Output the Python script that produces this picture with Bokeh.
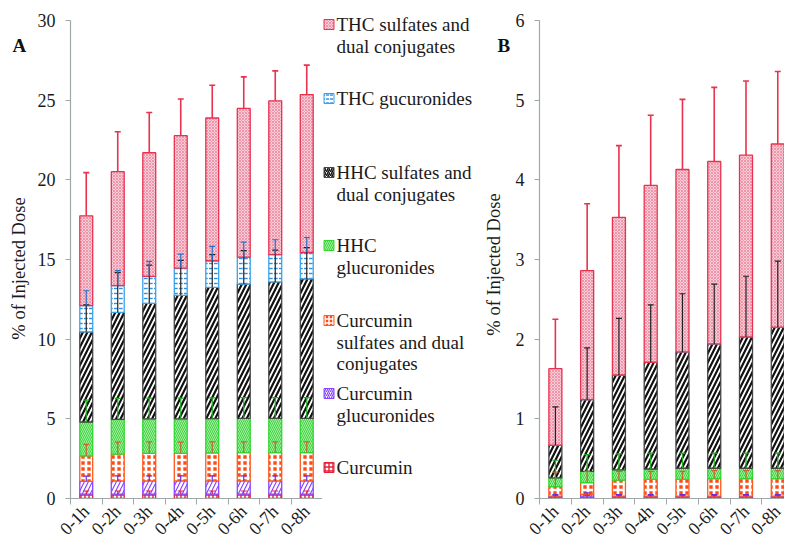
import numpy as np
from math import pi
from bokeh.plotting import figure
from bokeh.layouts import row
from bokeh.models import Range1d, FixedTicker
from bokeh.embed import file_html
from bokeh.resources import INLINE
from bokeh.core.properties import value

categories = ["0-1h", "0-2h", "0-3h", "0-4h", "0-5h", "0-6h", "0-7h", "0-8h"]

# ---- Panel A (segment values, bottom to top) ----
a_curcumin      = [0.27, 0.27, 0.27, 0.27, 0.27, 0.27, 0.27, 0.27]
a_cur_gluc      = [0.81, 0.83, 0.83, 0.83, 0.83, 0.83, 0.83, 0.83]
a_cur_sulf      = [1.59, 1.69, 1.73, 1.73, 1.76, 1.78, 1.78, 1.78]
a_hhc_gluc      = [2.13, 2.18, 2.17, 2.17, 2.15, 2.15, 2.15, 2.15]
a_hhc_sulf      = [5.66, 6.71, 7.25, 7.75, 8.24, 8.43, 8.56, 8.75]
a_thc_gluc      = [1.64, 1.68, 1.69, 1.71, 1.67, 1.69, 1.71, 1.66]
a_thc_sulf      = [5.64, 7.15, 7.76, 8.31, 8.96, 9.33, 9.66, 9.91]

a_err_curcumin  = [0.20, 0.20, 0.20, 0.20, 0.20, 0.20, 0.20, 0.20]
a_err_cur_gluc  = [0.32, 0.32, 0.32, 0.32, 0.32, 0.32, 0.32, 0.32]
a_err_cur_sulf  = [0.73, 0.75, 0.72, 0.71, 0.70, 0.68, 0.68, 0.68]
a_err_hhc_gluc  = [1.37, 1.31, 1.30, 1.30, 1.30, 1.30, 1.30, 1.30]
a_err_hhc_sulf  = [1.70, 2.50, 2.40, 2.20, 2.05, 2.10, 2.00, 1.97]
a_err_thc_gluc  = [0.94, 0.94, 0.94, 0.88, 0.90, 0.94, 0.94, 0.94]
a_err_thc_sulf  = [2.71, 2.51, 2.53, 2.30, 2.06, 1.98, 1.88, 1.85]

# ---- Panel B ----
b_curcumin      = [0.02, 0.02, 0.02, 0.02, 0.02, 0.02, 0.02, 0.02]
b_cur_gluc      = [0.01, 0.03, 0.01, 0.01, 0.01, 0.01, 0.01, 0.01]
b_cur_sulf      = [0.12, 0.15, 0.20, 0.21, 0.21, 0.22, 0.22, 0.22]
b_hhc_gluc      = [0.11, 0.14, 0.13, 0.13, 0.14, 0.13, 0.13, 0.13]
b_hhc_sulf      = [0.41, 0.90, 1.19, 1.34, 1.46, 1.56, 1.65, 1.77]
b_thc_gluc      = [0.00, 0.00, 0.00, 0.00, 0.00, 0.00, 0.00, 0.00]
b_thc_sulf      = [0.96, 1.62, 1.98, 2.22, 2.29, 2.29, 2.28, 2.30]

b_err_curcumin  = [0.02, 0.02, 0.02, 0.02, 0.02, 0.02, 0.02, 0.02]
b_err_cur_gluc  = [0.02, 0.02, 0.02, 0.02, 0.02, 0.02, 0.02, 0.02]
b_err_cur_sulf  = [0.18, 0.14, 0.11, 0.10, 0.10, 0.10, 0.10, 0.10]
b_err_hhc_gluc  = [0.22, 0.21, 0.20, 0.20, 0.19, 0.19, 0.19, 0.19]
b_err_hhc_sulf  = [0.48, 0.65, 0.71, 0.72, 0.73, 0.75, 0.76, 0.83]
b_err_thc_gluc  = [0.00, 0.00, 0.00, 0.00, 0.00, 0.00, 0.00, 0.00]
b_err_thc_sulf  = [0.62, 0.84, 0.90, 0.88, 0.88, 0.93, 0.93, 0.91]

yticks_a = [0, 5, 10, 15, 20, 25, 30]
yticks_b = [0, 1, 2, 3, 4, 5, 6]

y_axis_title = "% of Injected Dose"
panel_titles = ["A", "B"]

legend_labels = [
    ["THC sulfates and", "dual conjugates"],
    ["THC gucuronides"],
    ["HHC sulfates and", "dual conjugates"],
    ["HHC", "glucuronides"],
    ["Curcumin", "sulfates and dual", "conjugates"],
    ["Curcumin", "glucuronides"],
    ["Curcumin"],
]

# styles bottom -> top
STYLES = [
    dict(fill_color="white", hatch_pattern="+", hatch_color="#e8203a", hatch_scale=4, hatch_weight=1.4,
         line_color="#e8203a", err="#e8203a"),
    dict(fill_color="white", hatch_pattern="/", hatch_color="#8844ff", hatch_scale=8, hatch_weight=1.2,
         line_color="#8844ff", err="#6a2be0"),
    dict(fill_color="#ff4a14", hatch_pattern="+", hatch_color="white", hatch_scale=6, hatch_weight=2.6,
         line_color="#ff5a1e", err="#c8642c"),
    dict(fill_color="#3ed63e", hatch_pattern="\\", hatch_color="#c4f4c4", hatch_scale=4, hatch_weight=0.8,
         line_color="#2fd82f", err="#1fae1f"),
    dict(fill_color="white", hatch_pattern="/", hatch_color="#111111", hatch_scale=9, hatch_weight=2.2,
         line_color="#444444", err="#222222"),
    dict(fill_color="white", hatch_pattern='"', hatch_color="#2f8fe0", hatch_scale=5, hatch_weight=1.4,
         line_color="#3aa2ea", err="#2a70c8"),
    dict(fill_color="#f8cdd7", hatch_pattern="x", hatch_color="#e8708c", hatch_scale=3, hatch_weight=0.6,
         line_color="#e8324e", err="#e8324e"),
]

FONT = "'Liberation Serif', 'Times New Roman', 'DejaVu Serif', serif"
AXIS_COLOR = "#9ea8a8"
TEXT_COLOR = "#1a1a1a"
H = 548
TOP, BOTTOM = 20, 49          # frame borders of the two chart panels
FRAME_TOP, FRAME_BOT = TOP, H - BOTTOM


def style_axes(p, yticks):
    p.outline_line_color = None
    p.xgrid.grid_line_color = None
    p.ygrid.grid_line_color = None
    n = len(categories)
    centers = [i + 0.5 for i in range(n)]
    p.xaxis.ticker = FixedTicker(ticks=centers, minor_ticks=list(range(n + 1)))
    p.xaxis.major_label_overrides = {c: lab for c, lab in zip(centers, categories)}
    p.xaxis.major_label_orientation = pi / 4
    p.xaxis.major_tick_out = 0
    p.xaxis.major_tick_in = 0
    p.xaxis.minor_tick_out = 6
    p.xaxis.minor_tick_in = 0
    p.xaxis.minor_tick_line_color = AXIS_COLOR
    p.xaxis.major_label_standoff = 4
    p.yaxis.ticker = FixedTicker(ticks=yticks, minor_ticks=[])
    p.yaxis.major_tick_out = 5
    p.yaxis.major_tick_in = 0
    p.yaxis.major_tick_line_color = AXIS_COLOR
    p.yaxis.major_label_standoff = 10
    for ax in (p.xaxis, p.yaxis):
        ax.axis_line_color = AXIS_COLOR
        ax.axis_line_width = 1.2
        ax.major_label_text_font = FONT
        ax.major_label_text_font_size = "18px"
        ax.major_label_text_color = TEXT_COLOR


def draw_stack(p, segs, errs):
    n = len(categories)
    x = np.arange(n) + 0.5
    arr = np.array(segs, dtype=float)
    tops = np.cumsum(arr, axis=0)
    bottoms = tops - arr
    for k, st in enumerate(STYLES):
        p.vbar(x=x, width=0.41, bottom=bottoms[k], top=tops[k],
               fill_color=st["fill_color"], hatch_pattern=st["hatch_pattern"],
               hatch_color=st["hatch_color"], hatch_scale=st["hatch_scale"],
               hatch_weight=st["hatch_weight"], line_color=st["line_color"], line_width=1.3)
    for k, st in enumerate(STYLES):
        e = np.array(errs[k], dtype=float)
        mask = e > 0
        if not mask.any():
            continue
        lw = 1.6 if k == len(STYLES) - 1 else 1.2
        p.segment(x0=x[mask], y0=tops[k][mask], x1=x[mask], y1=(tops[k] + e)[mask],
                  line_color=st["err"], line_width=lw)
        p.scatter(x=x[mask], y=(tops[k] + e)[mask], marker="dash", size=6,
                  line_color=st["err"], line_width=lw)


def helper_fig(width):
    # a blank figure whose data coordinates equal page pixels (y downward)
    f = figure(width=width, height=H, x_range=Range1d(0, width), y_range=Range1d(H, 0),
               output_backend="svg", toolbar_location=None,
               min_border_left=0, min_border_right=0, min_border_top=0, min_border_bottom=0)
    try:
        f.frame_align = False
    except Exception:
        f.min_border_top = TOP
        f.min_border_bottom = BOTTOM
        f.y_range = Range1d(FRAME_BOT, FRAME_TOP)
    f.axis.visible = False
    f.grid.visible = False
    f.outline_line_color = None
    return f


# ---- left strip: panel letter A and the y-axis title of A ----
WA = 34
pHA = helper_fig(WA)
pHA.text(x=[12], y=[45], text=[panel_titles[0]], text_font=value(FONT), text_font_size="19px",
         text_font_style="bold", text_baseline="middle", text_align="left", text_color="#111111")
pHA.text(x=[18], y=[268], text=[y_axis_title], angle=pi / 2, text_font=value(FONT),
         text_font_size="18.5px", text_baseline="middle", text_align="center", text_color=TEXT_COLOR)

# ---- panel A ----
pA = figure(width=322 - WA, height=H, x_range=Range1d(0, 8), y_range=Range1d(0, 30),
            output_backend="svg", toolbar_location=None,
            min_border_left=68 - WA, min_border_right=0, min_border_top=TOP, min_border_bottom=BOTTOM)
style_axes(pA, yticks_a)
draw_stack(pA, [a_curcumin, a_cur_gluc, a_cur_sulf, a_hhc_gluc, a_hhc_sulf, a_thc_gluc, a_thc_sulf],
           [a_err_curcumin, a_err_cur_gluc, a_err_cur_sulf, a_err_hhc_gluc, a_err_hhc_sulf,
            a_err_thc_gluc, a_err_thc_sulf])

# ---- legend strip (also holds B's letter and y-axis title) ----
LX0 = 322
LW = 512 - LX0
pL = helper_fig(LW)
first_line_y = [24, 98, 172, 245, 320, 393, 467]
line_gap = 21.5
for idx, lines in enumerate(legend_labels):
    st = STYLES[len(STYLES) - 1 - idx]
    y0 = first_line_y[idx]
    pL.rect(x=[6.5], y=[y0], width=10, height=10, fill_color=st["fill_color"],
            hatch_pattern=st["hatch_pattern"], hatch_color=st["hatch_color"],
            hatch_scale=min(st["hatch_scale"], 4), hatch_weight=min(st["hatch_weight"], 1.5),
            line_color=st["line_color"], line_width=1)
    pL.text(x=[14] * len(lines), y=[y0 + i * line_gap for i in range(len(lines))], text=lines,
            text_font=value(FONT), text_font_size="19px", text_baseline="middle",
            text_align="left", text_color=TEXT_COLOR)
pL.text(x=[497 - LX0], y=[45], text=[panel_titles[1]], text_font=value(FONT), text_font_size="19px",
        text_font_style="bold", text_baseline="middle", text_align="left", text_color="#111111")
pL.text(x=[493 - LX0], y=[264], text=[y_axis_title], angle=pi / 2, text_font=value(FONT),
        text_font_size="18.5px", text_baseline="middle", text_align="center", text_color=TEXT_COLOR)

# ---- panel B ----
WB = 784 - 512
pB = figure(width=WB, height=H, x_range=Range1d(0, (WB - 26) / 31.9), y_range=Range1d(0, 6),
            output_backend="svg", toolbar_location=None,
            min_border_left=26, min_border_right=0, min_border_top=TOP, min_border_bottom=BOTTOM)
style_axes(pB, yticks_b)
draw_stack(pB, [b_curcumin, b_cur_gluc, b_cur_sulf, b_hhc_gluc, b_hhc_sulf, b_thc_gluc, b_thc_sulf],
           [b_err_curcumin, b_err_cur_gluc, b_err_cur_sulf, b_err_hhc_gluc, b_err_hhc_sulf,
            b_err_thc_gluc, b_err_thc_sulf])

layout = row(pHA, pA, pL, pB)
open("out.html", "w").write(file_html(layout, INLINE))
